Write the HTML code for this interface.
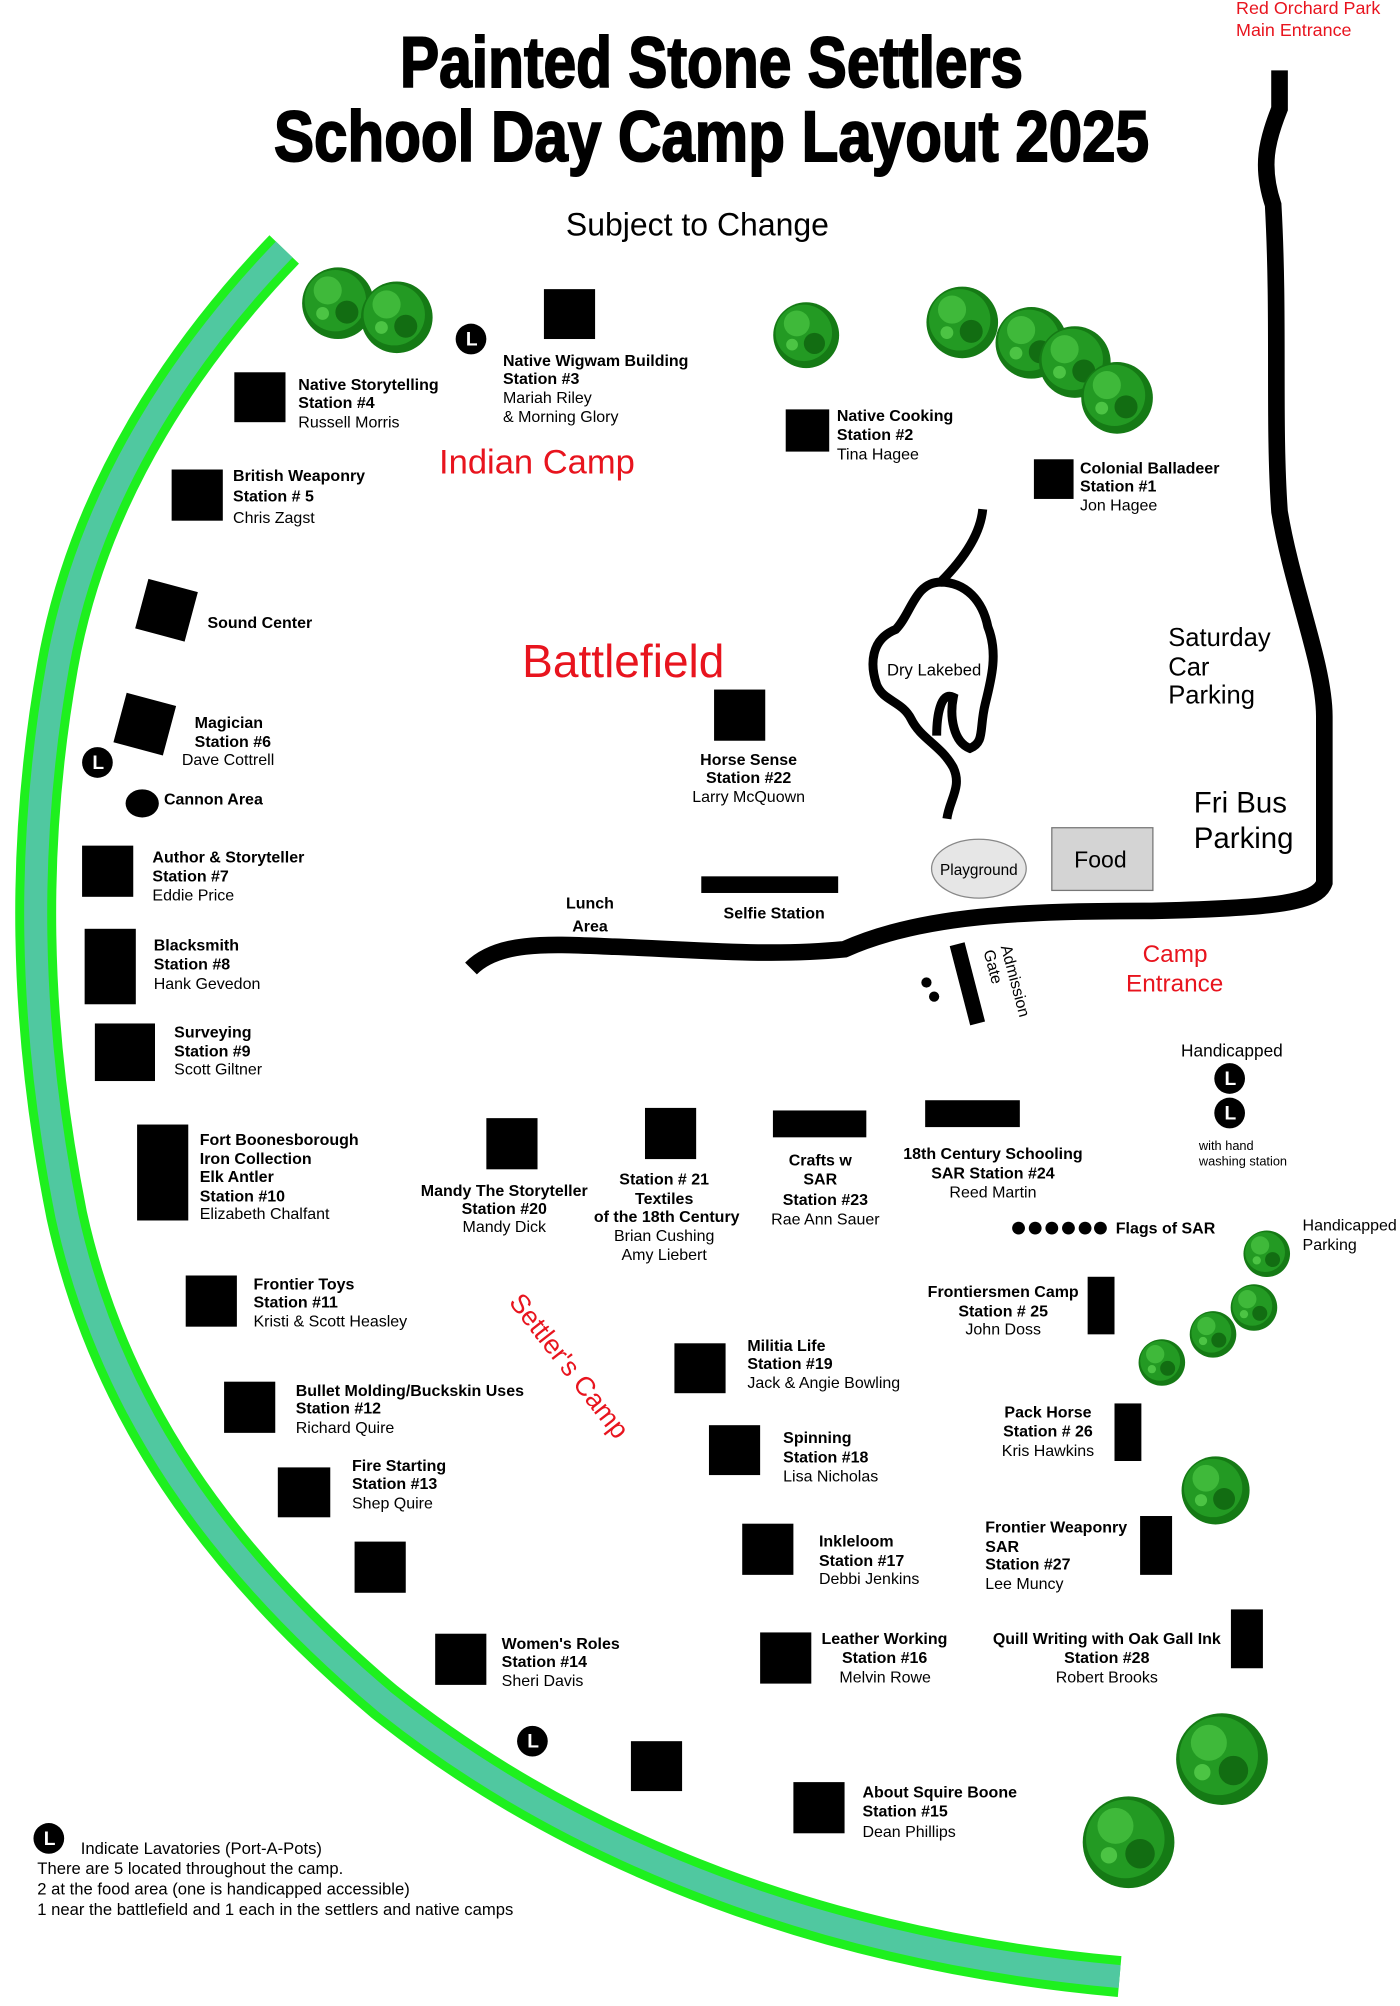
<!DOCTYPE html>
<html><head><meta charset="utf-8"><style>
html,body{margin:0;padding:0;background:#fff;}
svg{display:block;}
text{font-family:"Liberation Sans",sans-serif;}
.b{font-weight:bold;font-size:12.5px;}
.n{font-size:12.5px;}
.red{fill:#e8141e;}
</style></head><body>
<svg width="1400" height="2006" viewBox="0 0 1094 1568" xmlns="http://www.w3.org/2000/svg">
<defs>
<g id="tree"><circle r="28" fill="#157a15"/><circle r="24" cx="-2" cy="-2" fill="#239a23"/><circle r="11" cx="-8" cy="-10" fill="#3fb93a"/><circle r="9" cx="7" cy="7" fill="#126d12"/><circle r="5" cx="-12" cy="8" fill="#4cc444"/></g>
<g id="lav"><circle r="12" fill="#000"/><text x="-4" y="5" fill="#fff" font-weight="bold" font-size="15">L</text></g>
</defs>
<text x="556" y="68" text-anchor="middle" font-family="Liberation Serif" font-weight="900" font-size="56" stroke="#000" stroke-width="1.5" textLength="487" lengthAdjust="spacingAndGlyphs">Painted Stone Settlers</text>
<text x="556" y="126" text-anchor="middle" font-family="Liberation Serif" font-weight="900" font-size="56" stroke="#000" stroke-width="1.5" textLength="684" lengthAdjust="spacingAndGlyphs">School Day Camp Layout 2025</text>
<text x="545" y="184" text-anchor="middle" font-size="25">Subject to Change</text>
<text x="966" y="11" class="red" font-size="14">Red Orchard Park</text>
<text x="966" y="28" class="red" font-size="14">Main Entrance</text>
<!-- river -->
<path d="M222,195 C150,270 70,380 45,520 C20,660 22,800 52,950 C85,1100 170,1220 300,1330 C450,1450 650,1525 875,1545" fill="none" stroke="#1ef01e" stroke-width="32"/>
<path d="M222,195 C150,270 70,380 45,520 C20,660 22,800 52,950 C85,1100 170,1220 300,1330 C450,1450 650,1525 875,1545" fill="none" stroke="#50c8a0" stroke-width="18"/>
<!-- road -->
<path d="M1000,55 L1000,85 C990,110 985,130 995,160 C1000,250 995,330 1000,400 C1010,460 1035,520 1035,560 L1035,690 C1030,705 1000,710 900,712 C800,712 720,715 660,742 C600,748 540,742 480,740 C430,738 390,735 368,757" fill="none" stroke="#000" stroke-width="13"/>
<line x1="748" y1="738" x2="764" y2="800" stroke="#000" stroke-width="12"/>
<!-- lake -->
<path d="M768,398 C766,420 750,440 735,455 C715,455 712,480 700,492 C680,500 680,520 685,535 C690,548 705,548 712,562 C720,578 735,582 745,600 C752,615 742,625 740,640" fill="none" stroke="#000" stroke-width="7"/>
<path d="M735,455 C755,455 768,470 772,490 C780,510 775,530 770,550 C765,570 770,580 758,585 C745,580 742,560 745,545 C735,540 732,560 732,575" fill="none" stroke="#000" stroke-width="7"/>
<text x="730" y="528" text-anchor="middle" font-size="13">Dry Lakebed</text>
<ellipse cx="765" cy="679" rx="37" ry="23" fill="#e6e6e6" stroke="#888"/>
<text x="765" y="684" text-anchor="middle" font-size="12">Playground</text>
<rect x="822" y="647" width="79" height="49" fill="#d4d4d4" stroke="#777"/>
<text x="860" y="678" text-anchor="middle" font-size="18">Food</text>
<!-- trees -->
<use href="#tree" transform="translate(264,237)"/><use href="#tree" transform="translate(310,248)"/>
<use href="#tree" transform="translate(630,262) scale(0.92)"/><use href="#tree" transform="translate(752,252)"/><use href="#tree" transform="translate(806,268)"/><use href="#tree" transform="translate(840,283)"/><use href="#tree" transform="translate(873,311)"/>
<use href="#tree" transform="translate(990,980) scale(0.65)"/>
<use href="#tree" transform="translate(908,1065) scale(0.65)"/><use href="#tree" transform="translate(948,1043) scale(0.65)"/><use href="#tree" transform="translate(980,1022) scale(0.65)"/>
<use href="#tree" transform="translate(950,1165) scale(0.95)"/><use href="#tree" transform="translate(955,1375) scale(1.28)"/><use href="#tree" transform="translate(882,1440) scale(1.28)"/>
<!-- lavatories -->
<use href="#lav" x="368" y="265"/><use href="#lav" x="76" y="596"/><use href="#lav" x="961" y="843"/><use href="#lav" x="961" y="870"/><use href="#lav" x="416" y="1361"/><use href="#lav" x="38" y="1437"/>
<!-- stations -->
<g fill="#000">
<rect x="425" y="226" width="40" height="39"/>
<rect x="183" y="291" width="40" height="39"/>
<rect x="614" y="320" width="34" height="33"/>
<rect x="808" y="359" width="31" height="31"/>
<rect x="134" y="367" width="40" height="40"/>
<rect x="110" y="457" width="40" height="40" transform="rotate(15 130 477)"/>
<rect x="93" y="546" width="40" height="40" transform="rotate(15 113 566)"/>
<ellipse cx="111" cy="628" rx="13" ry="11"/>
<rect x="558" y="539" width="40" height="40"/>
<rect x="64" y="661" width="40" height="40"/>
<rect x="548" y="685" width="107" height="13"/>
<rect x="66" y="726" width="40" height="59"/>
<rect x="74" y="800" width="47" height="45"/>
<circle cx="724" cy="768" r="4"/><circle cx="730" cy="779" r="4"/>
<rect x="380" y="874" width="40" height="40"/>
<rect x="504" y="866" width="40" height="40"/>
<rect x="604" y="868" width="73" height="21"/>
<rect x="723" y="860" width="74" height="21"/>
<rect x="107" y="879" width="40" height="75"/>
<circle cx="796" cy="960" r="5"/><circle cx="809" cy="960" r="5"/><circle cx="822" cy="960" r="5"/><circle cx="835" cy="960" r="5"/><circle cx="848" cy="960" r="5"/><circle cx="860" cy="960" r="5"/>
<rect x="145" y="997" width="40" height="40"/>
<rect x="850" y="998" width="21" height="45"/>
<rect x="527" y="1050" width="40" height="39"/>
<rect x="175" y="1080" width="40" height="40"/>
<rect x="871" y="1097" width="21" height="45"/>
<rect x="554" y="1114" width="40" height="39"/>
<rect x="217" y="1147" width="41" height="39"/>
<rect x="580" y="1191" width="40" height="40"/>
<rect x="891" y="1185" width="25" height="46"/>
<rect x="277" y="1205" width="40" height="40"/>
<rect x="962" y="1258" width="25" height="46"/>
<rect x="340" y="1277" width="40" height="40"/>
<rect x="594" y="1276" width="40" height="40"/>
<rect x="493" y="1361" width="40" height="39"/>
<rect x="620" y="1393" width="40" height="40"/>
</g>
<!-- labels -->
<text x="393" y="286" class="b">Native Wigwam Building</text><text x="393" y="300" class="b">Station #3</text><text x="393" y="315" class="n">Mariah Riley</text><text x="393" y="330" class="n">&amp; Morning Glory</text>
<text x="233" y="305" class="b">Native Storytelling</text><text x="233" y="319" class="b">Station #4</text><text x="233" y="334" class="n">Russell Morris</text>
<text x="654" y="329" class="b">Native Cooking</text><text x="654" y="344" class="b">Station #2</text><text x="654" y="359" class="n">Tina Hagee</text>
<text x="844" y="370" class="b">Colonial Balladeer</text><text x="844" y="384" class="b">Station #1</text><text x="844" y="399" class="n">Jon Hagee</text>
<text x="343" y="370" class="red" font-size="27">Indian Camp</text>
<text x="182" y="376" class="b">British Weaponry</text><text x="182" y="392" class="b" font-size="14">Station # 5</text><text x="182" y="409" class="n" font-size="14">Chris Zagst</text>
<text x="162" y="491" class="b">Sound Center</text>
<text x="408" y="529" class="red" font-size="36">Battlefield</text>
<text x="913" y="505" font-size="20">Saturday</text><text x="913" y="528" font-size="20">Car</text><text x="913" y="550" font-size="20">Parking</text>
<text x="152" y="569" class="b">Magician</text><text x="152" y="584" class="b">Station #6</text><text x="142" y="598" class="n">Dave Cottrell</text>
<text x="585" y="598" text-anchor="middle" class="b">Horse Sense</text><text x="585" y="612" text-anchor="middle" class="b">Station #22</text><text x="585" y="627" text-anchor="middle" class="n">Larry McQuown</text>
<text x="128" y="629" class="b">Cannon Area</text>
<text x="933" y="635" font-size="23">Fri Bus</text><text x="933" y="663" font-size="23">Parking</text>
<text x="119" y="674" class="b">Author &amp; Storyteller</text><text x="119" y="689" class="b">Station #7</text><text x="119" y="704" class="n">Eddie Price</text>
<text x="461" y="710" text-anchor="middle" class="b" font-size="15">Lunch</text><text x="461" y="728" text-anchor="middle" class="b" font-size="15">Area</text>
<text x="605" y="718" text-anchor="middle" class="b" font-size="15">Selfie Station</text>
<text x="120" y="743" class="b">Blacksmith</text><text x="120" y="758" class="b">Station #8</text><text x="120" y="773" class="n">Hank Gevedon</text>
<text x="893" y="752" class="red" font-size="19">Camp</text><text x="880" y="775" class="red" font-size="19">Entrance</text>
<g transform="translate(782,740) rotate(75)"><text x="0" y="0" font-size="12.5">Admission</text><text x="0" y="14" font-size="12.5">Gate</text></g>
<text x="136" y="811" class="b">Surveying</text><text x="136" y="826" class="b">Station #9</text><text x="136" y="840" class="n">Scott Giltner</text>
<text x="923" y="826" font-size="13.5">Handicapped</text>
<text x="937" y="899" font-size="10">with hand</text><text x="937" y="911" font-size="10">washing station</text>
<text x="156" y="895" class="b">Fort Boonesborough</text><text x="156" y="910" class="b">Iron Collection</text><text x="156" y="924" class="b">Elk Antler</text><text x="156" y="939" class="b">Station #10</text><text x="156" y="953" class="n">Elizabeth Chalfant</text>
<text x="776" y="906" text-anchor="middle" class="b">18th Century Schooling</text><text x="776" y="921" text-anchor="middle" class="b">SAR Station #24</text><text x="776" y="936" text-anchor="middle" class="n">Reed Martin</text>
<text x="641" y="911" text-anchor="middle" class="b">Crafts w</text><text x="641" y="926" text-anchor="middle" class="b">SAR</text><text x="645" y="942" text-anchor="middle" class="b">Station #23</text><text x="645" y="957" text-anchor="middle" class="n">Rae Ann Sauer</text>
<text x="519" y="926" text-anchor="middle" class="b">Station # 21</text><text x="519" y="941" text-anchor="middle" class="b">Textiles</text><text x="521" y="955" text-anchor="middle" class="b">of the 18th Century</text><text x="519" y="970" text-anchor="middle" class="n">Brian Cushing</text><text x="519" y="985" text-anchor="middle" class="n">Amy Liebert</text>
<text x="394" y="935" text-anchor="middle" class="b">Mandy The Storyteller</text><text x="394" y="949" text-anchor="middle" class="b">Station #20</text><text x="394" y="963" text-anchor="middle" class="n">Mandy Dick</text>
<text x="872" y="964" class="b">Flags of SAR</text>
<text x="1018" y="962" font-size="12.5">Handicapped</text><text x="1018" y="977" font-size="12.5">Parking</text>
<text x="198" y="1008" class="b">Frontier Toys</text><text x="198" y="1022" class="b">Station #11</text><text x="198" y="1037" class="n">Kristi &amp; Scott Heasley</text>
<text x="784" y="1014" text-anchor="middle" class="b">Frontiersmen Camp</text><text x="784" y="1029" text-anchor="middle" class="b">Station # 25</text><text x="784" y="1043" text-anchor="middle" class="n">John Doss</text>
<text transform="translate(397,1018) rotate(52)" class="red" font-size="21">Settler's Camp</text>
<text x="584" y="1056" class="b">Militia Life</text><text x="584" y="1070" class="b">Station #19</text><text x="584" y="1085" class="n">Jack &amp; Angie Bowling</text>
<text x="231" y="1091" class="b">Bullet Molding/Buckskin Uses</text><text x="231" y="1105" class="b">Station #12</text><text x="231" y="1120" class="n">Richard Quire</text>
<text x="819" y="1108" text-anchor="middle" class="b">Pack Horse</text><text x="819" y="1123" text-anchor="middle" class="b">Station # 26</text><text x="819" y="1138" text-anchor="middle" class="n">Kris Hawkins</text>
<text x="612" y="1128" class="b">Spinning</text><text x="612" y="1143" class="b">Station #18</text><text x="612" y="1158" class="n">Lisa Nicholas</text>
<text x="275" y="1150" class="b">Fire Starting</text><text x="275" y="1164" class="b">Station #13</text><text x="275" y="1179" class="n">Shep Quire</text>
<text x="770" y="1198" class="b">Frontier Weaponry</text><text x="770" y="1213" class="b">SAR</text><text x="770" y="1227" class="b">Station #27</text><text x="770" y="1242" class="n">Lee Muncy</text>
<text x="640" y="1209" class="b">Inkleloom</text><text x="640" y="1224" class="b">Station #17</text><text x="640" y="1238" class="n">Debbi Jenkins</text>
<text x="642" y="1285" class="b">Leather Working</text><text x="658" y="1300" class="b">Station #16</text><text x="656" y="1315" class="n">Melvin Rowe</text>
<text x="865" y="1285" text-anchor="middle" class="b">Quill Writing with Oak Gall Ink</text><text x="865" y="1300" text-anchor="middle" class="b">Station #28</text><text x="865" y="1315" text-anchor="middle" class="n">Robert Brooks</text>
<text x="392" y="1289" class="b">Women's Roles</text><text x="392" y="1303" class="b">Station #14</text><text x="392" y="1318" class="n">Sheri Davis</text>
<text x="674" y="1405" class="b">About Squire Boone</text><text x="674" y="1420" class="b">Station #15</text><text x="674" y="1436" class="n" font-size="14">Dean Phillips</text>
<text x="63" y="1449" font-size="13">Indicate Lavatories (Port-A-Pots)</text>
<text x="29" y="1465" font-size="13">There are 5 located throughout the camp.</text>
<text x="29" y="1481" font-size="13">2 at the food area (one is handicapped accessible)</text>
<text x="29" y="1497" font-size="13">1 near the battlefield and 1 each in the settlers and native camps</text>
</svg>
</body></html>
